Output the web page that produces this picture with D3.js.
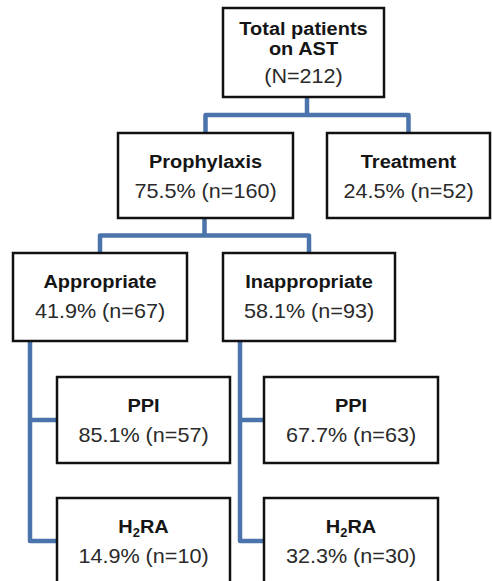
<!DOCTYPE html>
<html>
<head>
<meta charset="utf-8">
<script src="https://cdn.jsdelivr.net/npm/d3@7"></script>
<style>
  body { margin: 0; background: #fff; }
  svg { display: block; }
</style>
</head>
<body>
<div id="chart"></div>
<script>
// flowchart data
const nodeIds   = ["total", "proph", "treat", "approp", "inapprop", "ppiA", "h2raA", "ppiI", "h2raI"];
const labels    = [["Total patients", "on AST"], ["Prophylaxis"], ["Treatment"], ["Appropriate"], ["Inappropriate"], ["PPI"], ["H2RA"], ["PPI"], ["H2RA"]];
const percents  = [null, 75.5, 24.5, 41.9, 58.1, 85.1, 14.9, 67.7, 32.3];
const counts    = [212, 160, 52, 67, 93, 57, 10, 63, 30];
const parents   = [null, "total", "total", "proph", "proph", "approp", "approp", "inapprop", "inapprop"];
// "split" = elbow from bottom, "side" = spine down the left side
const linkStyle = { total: "split", proph: "split", approp: "side", inapprop: "side" };

// layout (positions kept separate from data)
const layout = {
  total:    { x0: 223, x1: 384, row: 0 },
  proph:    { x0: 118, x1: 293, row: 1 },
  treat:    { x0: 327, x1: 490, row: 1 },
  approp:   { x0: 13,  x1: 187, row: 2 },
  inapprop: { x0: 223, x1: 395, row: 2 },
  ppiA:     { x0: 57,  x1: 230, row: 3 },
  h2raA:    { x0: 57,  x1: 230, row: 4 },
  ppiI:     { x0: 264, x1: 438, row: 3 },
  h2raI:    { x0: 264, x1: 438, row: 4 }
};

const width = 492, height = 581;
const rowTop = d3.scaleOrdinal([0, 1, 2, 3, 4], [8, 133, 253, 377, 498]);
const rowH   = d3.scaleOrdinal([0, 1, 2, 3, 4], [89, 85, 88, 86, 86]);

const nodes = nodeIds.map((id, i) => {
  const l = layout[id];
  const y0 = rowTop(l.row);
  return {
    id, label: labels[i], pct: percents[i], n: counts[i], parent: parents[i],
    x0: l.x0, x1: l.x1, y0, y1: y0 + rowH(l.row), cx: (l.x0 + l.x1) / 2
  };
});
const byId = new Map(nodes.map(d => [d.id, d]));

const svg = d3.select("#chart").append("svg")
  .attr("width", width)
  .attr("height", height)
  .style("background", "#fff");

// connectors
const lineColor = "#4a74ab";
const paths = [];
nodeIds.forEach(pid => {
  const p = byId.get(pid);
  const kids = nodes.filter(d => d.parent === pid);
  if (!kids.length) return;
  if (linkStyle[pid] === "split") {
    const xs = kids.map(k => k.cx);
    const midX = (d3.min(xs) + d3.max(xs)) / 2;
    const barY = (p.y1 + kids[0].y0) / 2;
    const path = d3.path();
    path.moveTo(midX, p.y1);
    path.lineTo(midX, barY);
    paths.push(path.toString());
    const bar = d3.path();
    bar.moveTo(kids[0].cx, kids[0].y0);
    bar.lineTo(kids[0].cx, barY);
    bar.lineTo(kids[kids.length - 1].cx, barY);
    bar.lineTo(kids[kids.length - 1].cx, kids[kids.length - 1].y0);
    paths.push(bar.toString());
  } else {
    const sx = p.x0 + 17;
    const last = kids[kids.length - 1];
    const spine = d3.path();
    spine.moveTo(sx, p.y1);
    spine.lineTo(sx, (last.y0 + last.y1) / 2);
    spine.lineTo(last.x0, (last.y0 + last.y1) / 2);
    paths.push(spine.toString());
    kids.slice(0, -1).forEach(k => {
      const b = d3.path();
      b.moveTo(sx, (k.y0 + k.y1) / 2);
      b.lineTo(k.x0, (k.y0 + k.y1) / 2);
      paths.push(b.toString());
    });
  }
});

svg.append("g")
  .selectAll("path")
  .data(paths)
  .enter()
  .append("path")
  .attr("d", d => d)
  .attr("fill", "none")
  .attr("stroke", lineColor)
  .attr("stroke-width", 4.5)
  .attr("stroke-linejoin", "round");

// boxes
const box = svg.append("g")
  .selectAll("g")
  .data(nodes)
  .enter()
  .append("g");

box.append("rect")
  .attr("x", d => d.x0)
  .attr("y", d => d.y0)
  .attr("width", d => d.x1 - d.x0)
  .attr("height", d => d.y1 - d.y0)
  .attr("fill", "#fff")
  .attr("stroke", "#111")
  .attr("stroke-width", 2.5);

const stretch = 1.08;

// bold labels
box.each(function(d) {
  const g = d3.select(this);
  const multi = d.label.length > 1;
  d.label.forEach((txt, j) => {
    const by = multi ? d.y0 + 27 + j * 20 : d.y0 + 35;
    const t = g.append("text")
      .attr("transform", `translate(${d.cx},${by}) scale(${stretch},1)`)
      .attr("text-anchor", "middle")
      .style("font-family", "'Liberation Sans', Arial, sans-serif")
      .style("font-weight", "bold")
      .style("font-size", "18.5px")
      .style("fill", "#151515");
    if (txt === "H2RA") {
      t.append("tspan").text("H");
      t.append("tspan").attr("dy", 4).style("font-size", "12px").text("2");
      t.append("tspan").attr("dy", -4).text("RA");
    } else {
      t.text(txt);
    }
  });
  const ny = multi ? d.y0 + 75 : d.y0 + 65;
  g.append("text")
    .attr("transform", `translate(${d.cx},${ny}) scale(${stretch},1)`)
    .attr("text-anchor", "middle")
    .style("font-family", "'Liberation Sans', Arial, sans-serif")
    .style("font-size", "20px")
    .style("fill", "#2a2a2a")
    .text(d.pct == null ? `(N=${d.n})` : `${d.pct.toFixed(1)}% (n=${d.n})`);
});
</script>
</body>
</html>
